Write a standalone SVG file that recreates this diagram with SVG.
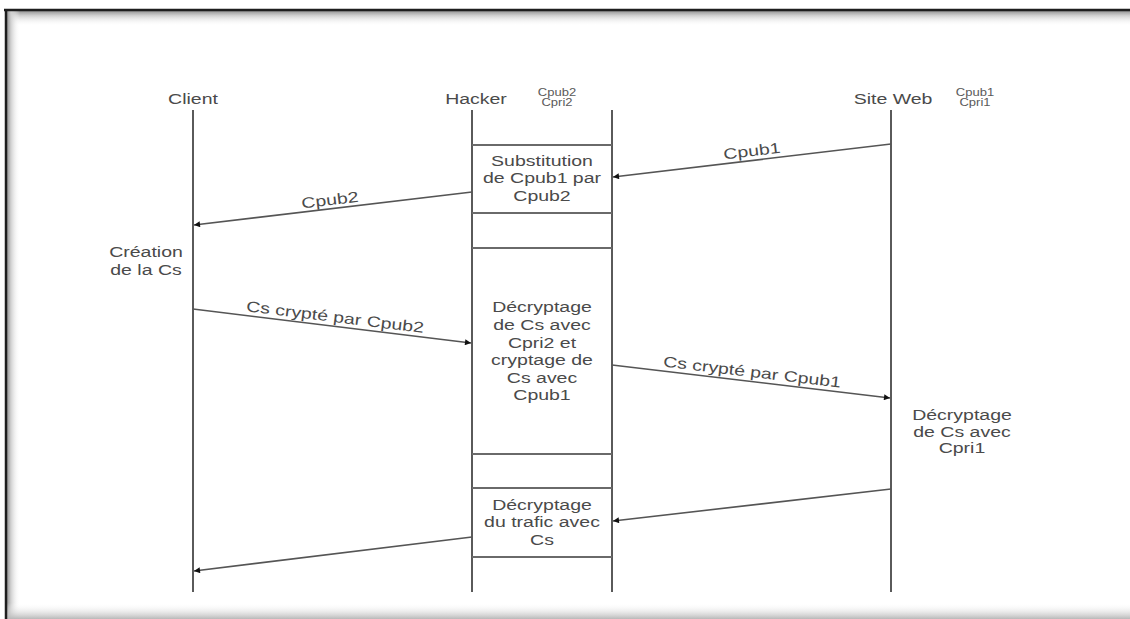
<svg xmlns="http://www.w3.org/2000/svg" width="1130" height="619" viewBox="0 0 1130 619">
<defs>
<linearGradient id="gTop" x1="0" y1="0" x2="0" y2="1">
<stop offset="0" stop-color="#8a8a8a"/>
<stop offset="0.35" stop-color="#d0d0d0"/>
<stop offset="1" stop-color="#ffffff" stop-opacity="0"/>
</linearGradient>
<linearGradient id="gLeft" x1="0" y1="0" x2="1" y2="0">
<stop offset="0" stop-color="#8a8a8a"/>
<stop offset="0.35" stop-color="#d0d0d0"/>
<stop offset="1" stop-color="#ffffff" stop-opacity="0"/>
</linearGradient>
<linearGradient id="gBot" x1="0" y1="0" x2="0" y2="1">
<stop offset="0" stop-color="#ffffff" stop-opacity="0"/>
<stop offset="1" stop-color="#b8b8b8"/>
</linearGradient>
<marker id="ah" viewBox="0 0 10 10" refX="10" refY="5" markerWidth="9" markerHeight="6" markerUnits="userSpaceOnUse" orient="auto">
<path d="M0,0 L10,5 L0,10 z" fill="#111"/>
</marker>
<style>
.t{font-family:"Liberation Sans",Arial,sans-serif;font-size:15px;fill:#4a4a4a;text-anchor:middle}
.s{font-family:"Liberation Sans",Arial,sans-serif;font-size:10px;fill:#5a5a5a;text-anchor:middle}
.life{stroke:#5a5a5a;stroke-width:2;fill:none}
.sep{stroke:#6a6a6a;stroke-width:2;fill:none}
.msg{stroke:#555;stroke-width:1.6;fill:none;marker-end:url(#ah)}
</style>
</defs>
<rect x="0" y="0" width="1130" height="619" fill="#ffffff"/>
<g id="frame">
<rect x="6" y="10" width="1124" height="16" fill="url(#gTop)"/>
<rect x="6" y="10" width="14" height="609" fill="url(#gLeft)"/>
<rect x="6" y="603" width="1124" height="16" fill="url(#gBot)"/>
<line x1="4" y1="10" x2="1130" y2="10" stroke="#1e1e1e" stroke-width="2.5"/>
<line x1="6" y1="9" x2="6" y2="619" stroke="#1e1e1e" stroke-width="2.5"/>
</g>
<g id="client">
<text class="t" transform="translate(193,104) scale(1.3,1)">Client</text>
<line class="life" x1="193" y1="110" x2="193" y2="592"/>
</g>
<g id="hacker">
<text class="t" transform="translate(476,104) scale(1.3,1)">Hacker</text>
<text class="s" transform="translate(557,96) scale(1.3,1)">Cpub2</text>
<text class="s" transform="translate(557,106) scale(1.3,1)">Cpri2</text>
<line class="life" x1="472" y1="110" x2="472" y2="592"/>
<line class="life" x1="612" y1="110" x2="612" y2="592"/>
<line class="sep" x1="472" y1="145" x2="612" y2="145"/>
<line class="sep" x1="472" y1="213" x2="612" y2="213"/>
<line class="sep" x1="472" y1="248" x2="612" y2="248"/>
<line class="sep" x1="472" y1="454" x2="612" y2="454"/>
<line class="sep" x1="472" y1="488" x2="612" y2="488"/>
<line class="sep" x1="472" y1="557" x2="612" y2="557"/>
</g>
<g id="site-web">
<text class="t" transform="translate(893,104) scale(1.3,1)">Site Web</text>
<text class="s" transform="translate(975,96) scale(1.3,1)">Cpub1</text>
<text class="s" transform="translate(975,106) scale(1.3,1)">Cpri1</text>
<line class="life" x1="891" y1="110" x2="891" y2="592"/>
</g>
<g id="note-substitution">
<text class="t" transform="translate(542,166) scale(1.3,1)">Substitution</text>
<text class="t" transform="translate(542,183) scale(1.3,1)">de Cpub1 par</text>
<text class="t" transform="translate(542,201) scale(1.3,1)">Cpub2</text>
</g>
<g id="note-decryptage-hacker">
<text class="t" transform="translate(542,312) scale(1.3,1)">Décryptage</text>
<text class="t" transform="translate(542,330) scale(1.3,1)">de Cs avec</text>
<text class="t" transform="translate(542,348) scale(1.3,1)">Cpri2 et</text>
<text class="t" transform="translate(542,365) scale(1.3,1)">cryptage de</text>
<text class="t" transform="translate(542,383) scale(1.3,1)">Cs avec</text>
<text class="t" transform="translate(542,400) scale(1.3,1)">Cpub1</text>
</g>
<g id="note-trafic">
<text class="t" transform="translate(542,510) scale(1.3,1)">Décryptage</text>
<text class="t" transform="translate(542,527) scale(1.3,1)">du trafic avec</text>
<text class="t" transform="translate(542,545) scale(1.3,1)">Cs</text>
</g>
<g id="note-creation">
<text class="t" transform="translate(146,257) scale(1.3,1)">Création</text>
<text class="t" transform="translate(146,275) scale(1.3,1)">de la Cs</text>
</g>
<g id="note-decryptage-site">
<text class="t" transform="translate(962,420) scale(1.3,1)">Décryptage</text>
<text class="t" transform="translate(962,437) scale(1.3,1)">de Cs avec</text>
<text class="t" transform="translate(962,453) scale(1.3,1)">Cpri1</text>
</g>
<g id="connectors">
<line class="msg" x1="891" y1="144" x2="613" y2="177"/>
<line class="msg" x1="472" y1="192" x2="194" y2="225"/>
<line class="msg" x1="193" y1="309" x2="471" y2="343"/>
<line class="msg" x1="612" y1="365" x2="890" y2="398"/>
<line class="msg" x1="891" y1="489" x2="613" y2="521"/>
<line class="msg" x1="472" y1="537" x2="194" y2="571"/>
<text class="t" transform="translate(753,160) rotate(-6.8) translate(0,-4) scale(1.3,1)">Cpub1</text>
<text class="t" transform="translate(331,209) rotate(-6.8) translate(0,-4) scale(1.3,1)">Cpub2</text>
<text class="t" transform="translate(334,326) rotate(7) translate(0,-4) scale(1.3,1)">Cs crypté par Cpub2</text>
<text class="t" transform="translate(751,381) rotate(6.8) translate(0,-4) scale(1.3,1)">Cs crypté par Cpub1</text>
</g>
</svg>
